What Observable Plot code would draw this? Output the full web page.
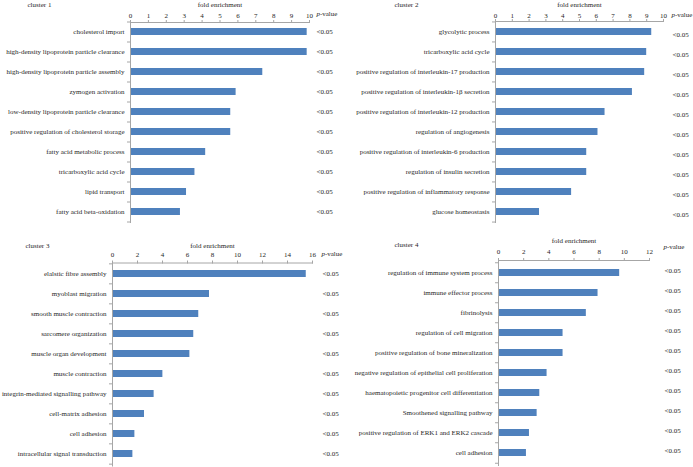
<!DOCTYPE html>
<html>
<head>
<meta charset="utf-8">
<script src="https://cdn.jsdelivr.net/npm/d3@7"></script>
<script src="https://cdn.jsdelivr.net/npm/@observablehq/plot@0.6"></script>
<style>
  html, body { margin: 0; padding: 0; background: #fff; }
  #wrap { position: relative; width: 693px; height: 467px; overflow: hidden; background: #fff; }
  #wrap svg { position: absolute; }
</style>
</head>
<body>
<div id="wrap"></div>
<script>
// ---- data ----
const c1Terms = ["cholesterol import", "high-density lipoprotein particle clearance", "high-density lipoprotein particle assembly", "zymogen activation", "low-density lipoprotein particle clearance", "positive regulation of cholesterol storage", "fatty acid metabolic process", "tricarboxylic acid cycle", "lipid transport", "fatty acid beta-oxidation"];
const c1Fold = [9.87, 9.87, 7.39, 5.9, 5.6, 5.6, 4.2, 3.6, 3.13, 2.79];
const c1P = ["<0.05", "<0.05", "<0.05", "<0.05", "<0.05", "<0.05", "<0.05", "<0.05", "<0.05", "<0.05"];
const c1Ticks = [0, 1, 2, 3, 4, 5, 6, 7, 8, 9, 10];

const c2Terms = ["glycolytic process", "tricarboxylic acid cycle", "positive regulation of interleukin-17 production", "positive regulation of interleukin-1β secretion", "positive regulation of interleukin-12 production", "regulation of angiogenesis", "positive regulation of interleukin-6 production", "regulation of insulin secretion", "positive regulation of inflammatory response", "glucose homeostasis"];
const c2Fold = [9.3, 9.0, 8.88, 8.15, 6.52, 6.1, 5.43, 5.43, 4.53, 2.62];
const c2P = ["<0.05", "<0.05", "<0.05", "<0.05", "<0.05", "<0.05", "<0.05", "<0.05", "<0.05", "<0.05"];
const c2Ticks = [0, 1, 2, 3, 4, 5, 6, 7, 8, 9, 10];

const c3Terms = ["elalstic fibre assembly", "myoblast migration", "smooth muscle contraction", "sarcomere organization", "muscle organ development", "muscle contraction", "integrin-mediated signalling pathway", "cell-matrix adhesion", "cell adhesion", "intracellular signal transduction"];
const c3Fold = [15.5, 7.76, 6.9, 6.5, 6.19, 4.03, 3.33, 2.56, 1.79, 1.63];
const c3P = ["<0.05", "<0.05", "<0.05", "<0.05", "<0.05", "<0.05", "<0.05", "<0.05", "<0.05", "<0.05"];
const c3Ticks = [0, 2, 4, 6, 8, 10, 12, 14, 16];

const c4Terms = ["regulation of immune system process", "immune effector process", "fibrinolysis", "regulation of cell migration", "positive regulation of bone mineralization", "negative regulation of epithelial cell proliferation", "haematopoietic progenitor cell differentiation", "Smoothened signalling pathway", "positive regulation of ERK1 and ERK2 cascade", "cell adhesion"];
const c4Fold = [9.63, 7.91, 6.98, 5.13, 5.13, 3.86, 3.28, 3.07, 2.46, 2.22];
const c4P = ["<0.05", "<0.05", "<0.05", "<0.05", "<0.05", "<0.05", "<0.05", "<0.05", "<0.05", "<0.05"];
const c4Ticks = [0, 2, 4, 6, 8, 10, 12];

const titles = ["cluster 1", "cluster 2", "cluster 3", "cluster 4"];
const xLabel = "fold enrichment";

// ---- layout ----
const BAR = "#4f81bd";
const AXIS = "#a6a6a6";
const TEXT = "#262626";

const panels = [
  {terms: c1Terms, fold: c1Fold, p: c1P, ticks: c1Ticks, title: titles[0],
   left: 0, top: 0, w: 346, h: 230, mL: 130, mR: 37, mT: 22, mB: 8, tp: 2,
   titleX: 27, titleY: 4, foldY: 4, pvX: 316, pvY: 13, pDx: 7, pDy: 0},
  {terms: c2Terms, fold: c2Fold, p: c2P, ticks: c2Ticks, title: titles[1],
   left: 346, top: 0, w: 347, h: 230, mL: 149, mR: 30, mT: 21, mB: 8, tp: 1,
   titleX: 48, titleY: 4, foldY: 4, pvX: 325, pvY: 14, pDx: 9, pDy: 2.5},
  {terms: c3Terms, fold: c3Fold, p: c3P, ticks: c3Ticks, title: titles[2],
   left: 0, top: 230, w: 346, h: 237, mL: 112, mR: 34, mT: 32.5, mB: 1.5, tp: 3.5,
   titleX: 25, titleY: 15, foldY: 15, pvX: 321, pvY: 23, pDx: 10, pDy: 0},
  {terms: c4Terms, fold: c4Fold, p: c4P, ticks: c4Ticks, title: titles[3],
   left: 346, top: 230, w: 347, h: 237, mL: 152, mR: 44, mT: 30, mB: 2, tp: 4,
   titleX: 48, titleY: 14, foldY: 10, pvX: 317, pvY: 16, pDx: 15, pDy: -2}
];

const wrap = document.getElementById("wrap");

for (const P of panels) {
  const data = P.terms.map((t, i) => ({term: t, fold: P.fold[i], p: P.p[i]}));
  const step = (P.h - P.mT - P.mB) / P.terms.length;
  const plotRight = P.w - P.mR;
  const xMax = P.ticks[P.ticks.length - 1];
  const chart = Plot.plot({
    width: P.w,
    height: P.h,
    marginLeft: P.mL,
    marginRight: P.mR,
    marginTop: P.mT,
    marginBottom: P.mB,
    style: {fontFamily: "'Liberation Serif', 'DejaVu Serif', serif", fontSize: "7px", color: TEXT, background: "transparent", overflow: "visible"},
    x: {domain: [0, xMax], axis: null},
    y: {domain: P.terms, paddingInner: 0.64, paddingOuter: 0.32, axis: null},
    marks: [
      Plot.barX(data, {y: "term", x: "fold", fill: BAR}),
      Plot.frame({anchor: "top", stroke: AXIS}),
      Plot.frame({anchor: "left", stroke: AXIS}),
      Plot.axisX({anchor: "top", ticks: P.ticks, tickSize: 3, tickPadding: P.tp, stroke: AXIS, fill: TEXT, label: null}),
      Plot.axisY({anchor: "left", tickSize: 0, tickPadding: 6, fill: TEXT, label: null}),
      Plot.axisY({anchor: "left", tickSize: 3, text: null, stroke: AXIS, dy: -step / 2, label: null}),
      Plot.axisY({anchor: "left", ticks: [P.terms[P.terms.length - 1]], tickSize: 3, text: null, stroke: AXIS, dy: step / 2, label: null}),
      Plot.text(data, {y: "term", text: "p", frameAnchor: "right", textAnchor: "start", dx: P.pDx, dy: P.pDy, fill: TEXT}),
      Plot.text([P.title], {frameAnchor: "top-left", textAnchor: "start", lineAnchor: "middle", dx: P.titleX - P.mL, dy: P.titleY - P.mT, fill: TEXT}),
      Plot.text([xLabel], {frameAnchor: "top", textAnchor: "middle", lineAnchor: "middle", dy: P.foldY - P.mT, fill: TEXT}),
      Plot.text(["p"], {frameAnchor: "top-right", textAnchor: "start", lineAnchor: "middle", dx: P.pvX - plotRight, dy: P.pvY - P.mT, fontStyle: "italic", fill: TEXT}),
      Plot.text(["-value"], {frameAnchor: "top-right", textAnchor: "start", lineAnchor: "middle", dx: P.pvX - plotRight + 3.4, dy: P.pvY - P.mT, fill: TEXT})
    ]
  });
  chart.style.left = P.left + "px";
  chart.style.top = P.top + "px";
  wrap.appendChild(chart);
}
</script>
</body>
</html>
